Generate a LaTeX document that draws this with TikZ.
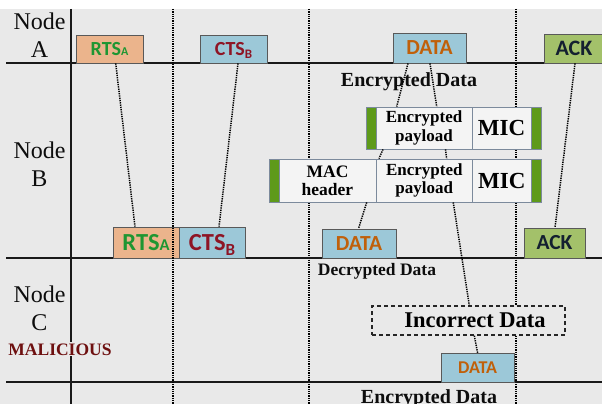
\documentclass[tikz,border=0pt]{standalone}
\usepackage{fontspec}
\setmainfont{Liberation Serif}
\newfontfamily\boxfont{Carlito}
\definecolor{bg}{HTML}{E9E9E9}
\definecolor{rtsfill}{HTML}{EBB48C}
\definecolor{ctsfill}{HTML}{9CC8D8}
\definecolor{ackfill}{HTML}{A3C16A}
\definecolor{barfill}{HTML}{5E9A1A}
\definecolor{framefill}{HTML}{F4F4F4}
\definecolor{framedraw}{HTML}{7C8A9C}
\definecolor{rtstext}{HTML}{1E9632}
\definecolor{ctstext}{HTML}{8E1525}
\definecolor{datatext}{HTML}{C0600A}
\definecolor{acktext}{HTML}{142030}
\definecolor{malcol}{HTML}{6E1010}
\begin{document}
\begin{tikzpicture}[x=1pt,y=-1pt,
  dotline/.style={line width=1.5pt, dash pattern=on 1.3pt off 1pt, black},
  axis/.style={line width=1.4pt, black!90},
  pkt/.style={draw=black!65, line width=0.8pt, inner sep=0pt, font=\boxfont\bfseries},
  rtsbox/.style={pkt, fill=rtsfill, text=rtstext},
  ctsbox/.style={pkt, fill=ctsfill, text=ctstext},
  databox/.style={pkt, fill=ctsfill, text=datatext},
  ackbox/.style={pkt, fill=ackfill, text=acktext},
  framebox/.style={draw=framedraw, fill=framefill, line width=0.8pt, inner sep=0pt, align=center, text=black},
  barbox/.style={draw=framedraw, fill=barfill, line width=0.6pt, inner sep=0pt, minimum width=10pt},
  lbl/.style={inner sep=0pt, font=\fontsize{24}{28}\selectfont, text=black!95},
  serifbold/.style={inner sep=0pt, text=black!95}
]
\useasboundingbox (0,0) rectangle (602,404);
\fill[white] (0,0) rectangle (602,404);
\fill[bg] (0,9) rectangle (602,404);
% time grid (dotted) and axes
\draw[dotline] (309,9) -- (309,404);
\draw[dotline] (516,9) -- (516,404);
\draw[axis] (6,63) -- (602,63);
\draw[axis] (6,258) -- (602,258);
\draw[axis] (6,382) -- (602,382);
\draw[axis] (71,9) -- (71,404);

% node labels
\node[lbl, anchor=base] (labA) at (39.5,30) {\begin{tabular}[t]{@{}c@{}}Node\\[-0.6pt]A\end{tabular}};
\node[lbl, anchor=base] (labB) at (39.5,158) {\begin{tabular}[t]{@{}c@{}}Node\\[0.4pt]B\end{tabular}};
\node[lbl, anchor=base] (labC) at (39.5,302) {\begin{tabular}[t]{@{}c@{}}Node\\C\end{tabular}};
\node[serifbold, anchor=base, fill=bg, inner sep=1pt, text=malcol, font=\fontsize{17.5}{19}\selectfont\bfseries] (mal) at (60,355) {MALICIOUS};

% Node A packets
\node[rtsbox, minimum width=67pt, minimum height=28pt, font=\boxfont\bfseries\fontsize{20}{22}\selectfont] (rtsA1) at (109.5,49) {RTS{\fontsize{12}{12}\selectfont A}};
\node[ctsbox, minimum width=67pt, minimum height=28pt, font=\boxfont\bfseries\fontsize{20}{22}\selectfont] (ctsB1) at (233.5,49) {CTS\raisebox{-3pt}[0pt][0pt]{\fontsize{13}{13}\selectfont B}};
\node[databox, minimum width=73pt, minimum height=30pt, font=\boxfont\bfseries\fontsize{21.5}{23}\selectfont] (dataA) at (429.5,48) {DATA};
\node[ackbox, minimum width=60pt, minimum height=29pt, font=\boxfont\bfseries\fontsize{22}{24}\selectfont] (ackA) at (574,48.5) {ACK};

\node[serifbold, anchor=base, font=\fontsize{20}{22}\selectfont\bfseries] (encTop) at (409,86) {Encrypted Data};

% frame row 1
\node[barbox, minimum height=42pt] (bar1L) at (371,128) {};
\node[framebox, minimum width=96pt, minimum height=42pt, font=\fontsize{17}{18.3}\selectfont\bfseries] (pay1) at (424,128) {Encrypted\\payload};
\node[framebox, minimum width=59pt, minimum height=42pt, font=\fontsize{23}{24}\selectfont\bfseries] (mic1) at (501.5,128) {MIC};
\node[barbox, minimum height=42pt] (bar1R) at (536,128) {};

% frame row 2
\node[barbox, minimum height=43pt] (bar2L) at (274,180.5) {};
\node[framebox, minimum width=97pt, minimum height=43pt, font=\fontsize{17.5}{18.3}\selectfont\bfseries] (mac2) at (327.5,180.5) {MAC\\header};
\node[framebox, minimum width=96.5pt, minimum height=43pt, font=\fontsize{17}{18.3}\selectfont\bfseries] (pay2) at (424.25,180.5) {Encrypted\\payload};
\node[framebox, minimum width=58.5pt, minimum height=43pt, font=\fontsize{23}{24}\selectfont\bfseries] (mic2) at (501.75,180.5) {MIC};
\node[barbox, minimum height=43pt] (bar2R) at (536,180.5) {};

% Node B packets
\node[rtsbox, minimum width=66pt, minimum height=31pt, font=\boxfont\bfseries\fontsize{24.5}{26}\selectfont] (rtsA2) at (146,242.5) {RTS{\fontsize{16.5}{16.5}\selectfont A}};
\node[ctsbox, minimum width=66pt, minimum height=31pt, font=\boxfont\bfseries\fontsize{24.5}{26}\selectfont] (ctsB2) at (212,242.5) {CTS\raisebox{-5pt}[0pt][0pt]{\fontsize{17}{17}\selectfont B}};
\node[databox, minimum width=74pt, minimum height=29pt, font=\boxfont\bfseries\fontsize{21.5}{23}\selectfont] (dataB) at (359,243.5) {DATA};
\node[ackbox, minimum width=61pt, minimum height=30pt, font=\boxfont\bfseries\fontsize{21.5}{23}\selectfont] (ackB) at (554.5,243) {ACK};

\node[serifbold, anchor=base, font=\fontsize{17.5}{19}\selectfont\bfseries] (decr) at (377,275) {Decrypted Data};

% Node C
\node[draw=black!85, line width=1.3pt, dash pattern=on 4pt off 3pt, fill=bg, inner sep=0pt, minimum width=193pt, minimum height=29pt, font=\fontsize{22.5}{24}\selectfont\bfseries] (incorrect) at (468.5,320.5) {\hspace*{13pt}Incorrect Data};
\node[databox, minimum width=73pt, minimum height=28.5pt, font=\boxfont\bfseries\fontsize{18}{20}\selectfont] (dataC) at (477.5,368) {DATA};

\node[serifbold, anchor=base, font=\fontsize{20}{22}\selectfont\bfseries] (encBot) at (429,403) {Encrypted Data};

% dotted grid line drawn over the RTS box
\draw[dotline] (173,9) -- (173,404);

% connectors
\draw[dotline] ([xshift=6.2pt]rtsA1.south) -- ([xshift=-11pt]rtsA2.north);
\draw[dotline] ([xshift=4.5pt]ctsB1.south) -- ([xshift=7pt]ctsB2.north);
\draw[dotline] ([xshift=-21.5pt]dataA.south) -- ([xshift=-27.3pt]pay1.north);
\draw[dotline] ([xshift=0.5pt]dataA.south) -- ([xshift=12.7pt]pay1.north);
\draw[dotline] ([xshift=-41pt]pay1.south) -- ([xshift=-45.3pt]pay2.north);
\draw[dotline] ([xshift=21.5pt]pay1.south) -- ([xshift=22.4pt]pay2.north);
\draw[dotline] ([xshift=39.2pt]mac2.south) -- ([xshift=-0.5pt]dataB.north);
\draw[dotline] ([xshift=29pt]pay2.south) -- ([xshift=0.8pt]incorrect.north);
\draw[dotline] ([xshift=5.8pt]incorrect.south) -- ([xshift=0.2pt]dataC.north);
\draw[dotline] ([xshift=1pt]ackA.south) -- ([xshift=0.5pt]ackB.north);
\end{tikzpicture}
\end{document}
